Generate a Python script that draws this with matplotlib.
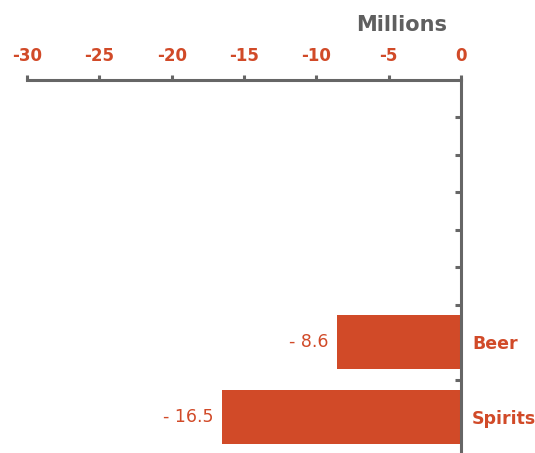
import numpy as np
import matplotlib
matplotlib.use("Agg")
import matplotlib.pyplot as plt

# change in consumption, millions
categories = ["Spirits", "Beer"]
values = [-16.5, -8.6]
value_labels = ["- 16.5", "- 8.6"]
x_ticks = [-30, -25, -20, -15, -10, -5, 0]

orange = "#D14A28"
grey = "#666666"

plt.rcParams['font.family'] = ['DejaVu Sans']

fig = plt.figure(figsize=(5.35, 4.53), dpi=100)
ax = fig.add_axes([27 / 535, -1.5 / 453, 434 / 535, 375 / 453])

ypos = np.arange(len(categories))
ax.barh(ypos, values, height=0.73, color=orange, zorder=2)

for y, v, lab in zip(ypos, values, value_labels):
    ax.annotate(lab, (v, y), xytext=(-6, 0), textcoords="offset points",
                ha="right", va="center", color=orange, fontsize=12.5)

ax.set_xlim(-30, 0)
ax.set_ylim(-0.5, 4.5)

# x axis along the top
ax.xaxis.tick_top()
ax.set_xticks(x_ticks)
ax.set_xticklabels([str(t) for t in x_ticks], color=orange, fontsize=12,
                   fontweight="bold")
ax.tick_params(axis="x", direction="out", length=3.5, width=2.2, color=grey, pad=7)

# category axis along the right edge, ticks every half slot
ax.yaxis.tick_right()
yt = np.arange(0, 4.5, 0.5)
ylabels = [""] * len(yt)
ylabels[0] = categories[0]
ylabels[2] = categories[1]
ax.set_yticks(yt)
ax.set_yticklabels(ylabels, color=orange, fontsize=12.5, fontweight="bold")
ax.tick_params(axis="y", direction="in", length=4, width=2.2, color=grey, pad=8)

for side in ["left", "bottom"]:
    ax.spines[side].set_visible(False)
for side in ["top", "right"]:
    ax.spines[side].set_color(grey)
    ax.spines[side].set_linewidth(2.2)
    ax.spines[side].set_capstyle("projecting")

fig.text(402 / 535, 1 - 25 / 453, "Millions", ha="center", va="center",
         color="#5f5f5f", fontsize=15, fontweight="bold")

fig.savefig("out.png", dpi=100)
